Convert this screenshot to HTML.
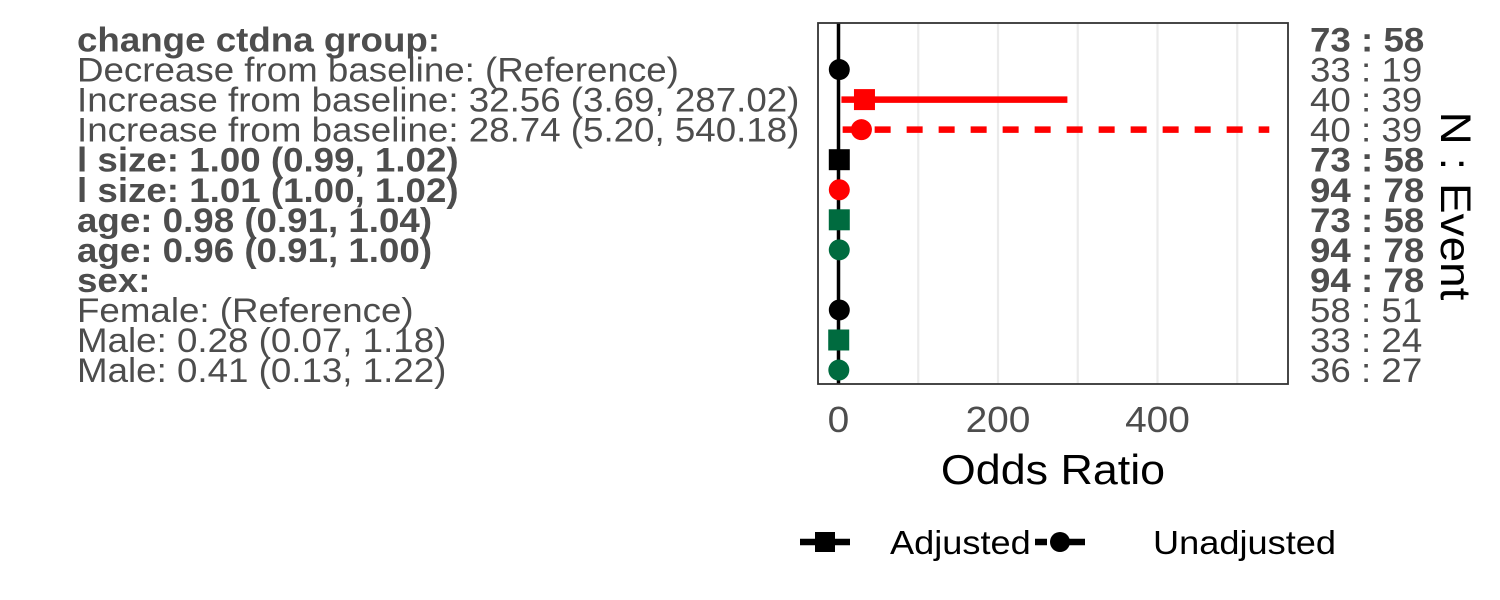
<!DOCTYPE html>
<html><head><meta charset="utf-8"><style>
body{margin:0;background:#fff;}
svg{display:block;font-family:"Liberation Sans",Arial,sans-serif;}
</style></head><body>
<svg id="c" width="1500" height="600"></svg>
<script>
const labels=["change ctdna group:","Decrease from baseline: (Reference)","Increase from baseline: 32.56 (3.69, 287.02)","Increase from baseline: 28.74 (5.20, 540.18)","l size: 1.00 (0.99, 1.02)","l size: 1.01 (1.00, 1.02)","age: 0.98 (0.91, 1.04)","age: 0.96 (0.91, 1.00)","sex:","Female: (Reference)","Male: 0.28 (0.07, 1.18)","Male: 0.41 (0.13, 1.22)"];
const bold=[1,0,0,0,1,1,1,1,1,0,0,0];
const nEvent=["73 : 58","33 : 19","40 : 39","40 : 39","73 : 58","94 : 78","73 : 58","94 : 78","94 : 78","58 : 51","33 : 24","36 : 27"];
const est=[null,1,32.56,28.74,1.00,1.01,0.98,0.96,null,1,0.28,0.41];
const lo=[null,1,3.69,5.20,0.99,1.00,0.91,0.91,null,1,0.07,0.13];
const hi=[null,1,287.02,540.18,1.02,1.02,1.04,1.00,null,1,1.18,1.22];
const colors=[null,"#000","#ff0000","#ff0000","#000","#ff0000","#006b3f","#006b3f",null,"#000","#006b3f","#006b3f"];
const shapes=[null,"c","s","c","s","c","s","c",null,"c","s","c"];
const xTicks=[0,200,400];
const NS="http://www.w3.org/2000/svg";
const svg=document.getElementById("c");
const X=v=>838.5+v*0.7975;
const Y=i=>39.5+i*30.05;
const SX=1.08;
function mk(t,a,p){const e=document.createElementNS(NS,t);for(const k in a)e.setAttribute(k,a[k]);(p||svg).appendChild(e);return e;}
function txt(x,y,s,a,p,rot){const e=mk("text",Object.assign({x:0,y:0,transform:"translate("+x+","+y+")"+(rot?" rotate(90)":"")+" scale("+SX+",1)"},a),p);e.textContent=s;return e;}
[100,300,500].forEach(v=>{const g=mk("line",{x1:X(v),x2:X(v),y1:23,y2:384,stroke:"#ebebeb","stroke-width":2.2});

});
xTicks.forEach(v=>{const g=mk("line",{x1:X(v),x2:X(v),y1:23,y2:384,stroke:"#ebebeb","stroke-width":2.2});


const t=txt(X(v),432,String(v),{"text-anchor":"middle","font-size":36,fill:"#4d4d4d"});

});
const ref=mk("line",{x1:X(0),x2:X(0),y1:23,y2:384,stroke:"#000","stroke-width":3.5});


labels.forEach((l,i)=>{
 const t=txt(77,Y(i)+12,l,{"font-size":34,fill:"#4d4d4d","font-weight":bold[i]?"bold":"normal"});
 
 
 const n=txt(1310,Y(i)+12,nEvent[i],{"font-size":34,fill:"#4d4d4d","font-weight":bold[i]?"bold":"normal"});
 
 
 if(est[i]==null)return;
 const dash=shapes[i]==="c"&&hi[i]>50;
 const ln=mk("line",{x1:X(lo[i]),x2:X(hi[i]),y1:Y(i),y2:Y(i),stroke:colors[i],"stroke-width":6.5});
 if(dash)ln.setAttribute("stroke-dasharray","16 16");
 
 
 let m;
 if(shapes[i]==="s")m=mk("rect",{x:X(est[i])-10.5,y:Y(i)-10.5,width:21,height:21,fill:colors[i]});
 else m=mk("circle",{cx:X(est[i]),cy:Y(i),r:10.5,fill:colors[i]});
 
 
});
const fr=mk("rect",{x:818,y:23,width:470,height:361,fill:"none",stroke:"#333","stroke-width":1.8});


const xt=txt(1053,484,"Odds Ratio",{"text-anchor":"middle","font-size":41.5,fill:"#000"});


const rt=txt(1441,206,"N : Event",{"font-size":42.5,fill:"#000","text-anchor":"middle"},null,true);


const g1=mk("g",{});
mk("line",{x1:800,x2:850,y1:542,y2:542,stroke:"#000","stroke-width":6.5},g1);
mk("rect",{x:815,y:532,width:20,height:20,fill:"#000"},g1);
txt(890,554,"Adjusted",{"font-size":33.5,fill:"#000"},g1);
const g2=mk("g",{});
mk("line",{x1:1035,x2:1085,y1:542,y2:542,stroke:"#000","stroke-width":6.5,"stroke-dasharray":"12 6 40 0"},g2);
mk("circle",{cx:1060,cy:542,r:10,fill:"#000"},g2);
txt(1153,554,"Unadjusted",{"font-size":33.5,fill:"#000"},g2);
</script>
</body></html>
